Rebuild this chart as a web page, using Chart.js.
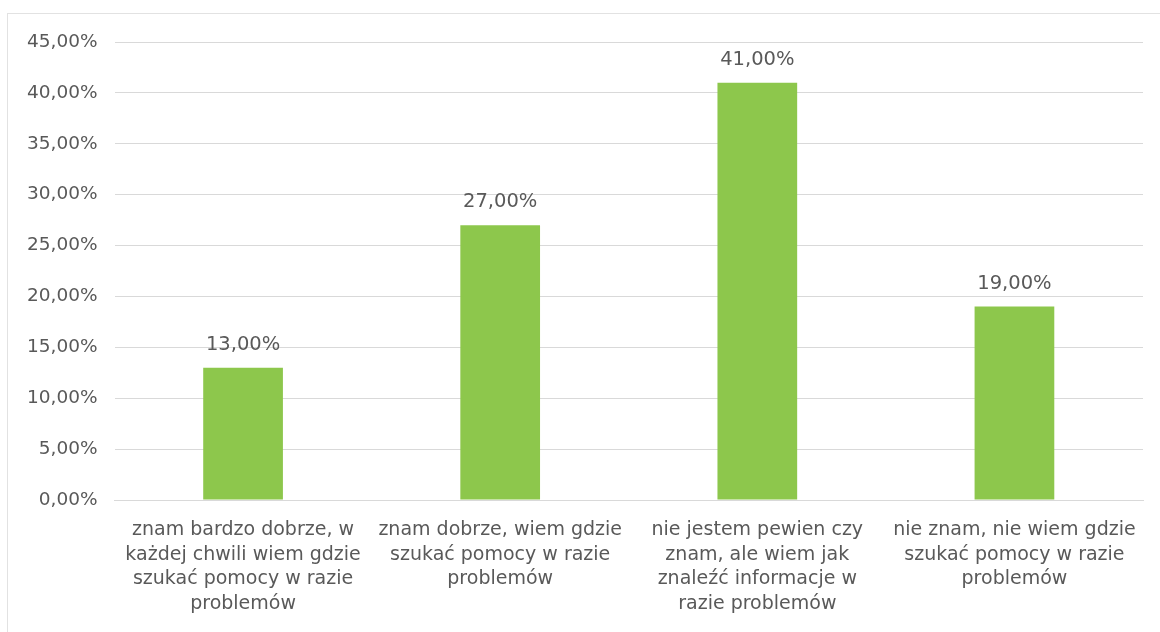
<!DOCTYPE html>
<html>
<head>
<meta charset="utf-8">
<script src="https://cdn.jsdelivr.net/npm/chart.js@4/dist/chart.umd.min.js"></script>
<style>
  html, body { margin: 0; padding: 0; background: #fff; }
  #ramka { position: absolute; left: 7px; top: 13px; width: 1160px; height: 640px;
           border-left: 1px solid #e2e2e2; border-top: 1px solid #e2e2e2; }
  #wrap { position: absolute; left: 0; top: 0; width: 1160px; height: 632px; }
</style>
</head>
<body>
<div id="ramka"></div>
<div id="wrap"><canvas id="wykres" width="1160" height="632"></canvas></div>
<script>
var kategorie = [
    ['znam bardzo dobrze, w', 'każdej chwili wiem gdzie', 'szukać pomocy w razie', 'problemów'],
    ['znam dobrze, wiem gdzie', 'szukać pomocy w razie', 'problemów'],
    ['nie jestem pewien czy', 'znam, ale wiem jak', 'znaleźć informacje w', 'razie problemów'],
    ['nie znam, nie wiem gdzie', 'szukać pomocy w razie', 'problemów']
];
var wartosci = [13, 27, 41, 19];
var osY = [0, 5, 10, 15, 20, 25, 30, 35, 40, 45];

var szary = '#595959';
var czcionka = "'DejaVu Sans', 'Liberation Sans', sans-serif";

function procent(v) {
    return v.toFixed(2).replace('.', ',') + '%';
}

// etykiety nad slupkami
var etykiety = {
    id: 'etykiety',
    afterDatasetsDraw: function(chart) {
        var ctx = chart.ctx;
        var meta = chart.getDatasetMeta(0);
        ctx.save();
        ctx.font = '19.5px ' + czcionka;
        ctx.fillStyle = szary;
        ctx.textAlign = 'center';
        ctx.textBaseline = 'middle';
        for (var i = 0; i < meta.data.length; i++) {
            var bar = meta.data[i];
            ctx.fillText(procent(wartosci[i]), bar.x, bar.y - 23);
        }
        ctx.restore();
    }
};

var ctx = document.getElementById('wykres').getContext('2d');
var wykres = new Chart(ctx, {
    type: 'bar',
    data: {
        labels: kategorie,
        datasets: [{
            data: wartosci,
            backgroundColor: '#8dc74c',
            barPercentage: 0.31,
            categoryPercentage: 1
        }]
    },
    options: {
        responsive: false,
        animation: false,
        layout: { padding: { top: 42, right: 17, left: 0, bottom: 0 } },
        plugins: { legend: { display: false }, tooltip: { enabled: false } },
        scales: {
            x: {
                grid: { display: false },
                border: { display: true, color: '#d9d9d9' },
                ticks: {
                    color: szary,
                    font: { size: 19, family: czcionka, lineHeight: 1.29 },
                    padding: 10,
                    maxRotation: 0,
                    autoSkip: false
                },
                afterFit: function(scale) { scale.height = 132; }
            },
            y: {
                min: 0,
                max: 45,
                afterBuildTicks: function(scale) {
                    scale.ticks = osY.map(function(v) { return { value: v }; });
                },
                grid: { color: '#d9d9d9', drawTicks: false },
                border: { display: false },
                ticks: {
                    color: szary,
                    font: { size: 18.5, family: czcionka },
                    padding: 17,
                    callback: function(v) { return procent(v); }
                },
                afterFit: function(scale) { scale.width = 114.5; }
            }
        }
    },
    plugins: [etykiety]
});
</script>
</body>
</html>
